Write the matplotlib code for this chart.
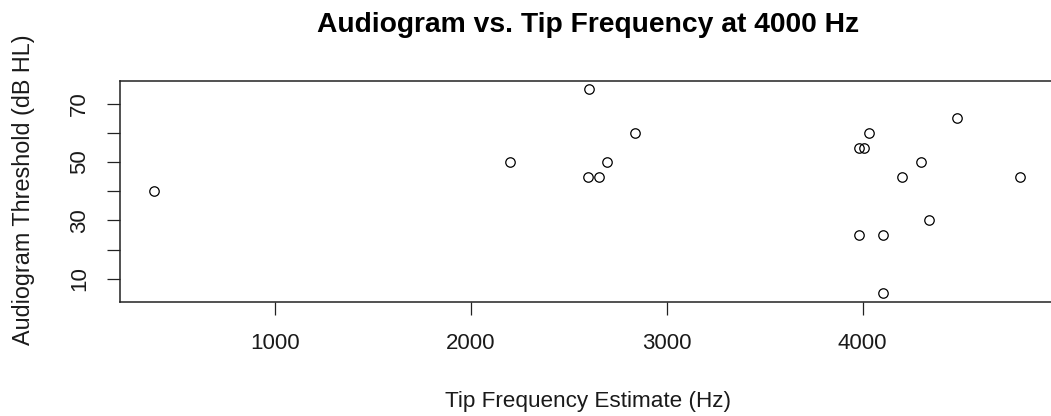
import matplotlib
matplotlib.use("Agg")
import matplotlib.pyplot as plt

# tip frequency estimate (Hz) and audiogram threshold (dB HL) for each ear
tip_freq = [386, 2203, 2606, 2597, 2654, 2697, 2839,
            3984, 4009, 4031, 3984, 4104, 4104, 4200,
            4299, 4337, 4480, 4805]
threshold = [40, 50, 75, 45, 45, 50, 60,
             55, 55, 60, 25, 25, 5, 45,
             50, 30, 65, 45]

x_ticks = [1000, 2000, 3000, 4000]
y_ticks = [10, 20, 30, 40, 50, 60, 70]
y_tick_labels = ["10", "", "30", "", "50", "", "70"]

plt.rcParams["font.family"] = ["Liberation Sans", "DejaVu Sans"]

W, H = 1051, 416
fig = plt.figure(figsize=(W / 100, H / 100), dpi=100)

# plot region in pixels: left 120, top 81, bottom 301.5, right runs past the edge
left, top, bottom, right = 119.7, 81, 301.5, 1055
ax = fig.add_axes([left / W, 1 - bottom / H, (right - left) / W, (bottom - top) / H])

ax.plot(tip_freq, threshold, "o", markersize=6.8, markerfacecolor="none",
        markeredgecolor="black", markeredgewidth=0.9, linestyle="none")

# R style 4% padding around the data range
xr = max(tip_freq) - min(tip_freq)
yr = max(threshold) - min(threshold)
ax.set_xlim(min(tip_freq) - 0.04 * xr, max(tip_freq) + 0.04 * xr)
ax.set_ylim(min(threshold) - 0.04 * yr, max(threshold) + 0.04 * yr)

ax.set_xticks(x_ticks)
ax.set_xticklabels([str(t) for t in x_ticks])
ax.set_yticks(y_ticks)
ax.set_yticklabels(y_tick_labels, rotation=90, va="center")

for s in ax.spines.values():
    s.set_linewidth(1.1)
    s.set_color("#222222")
ax.tick_params(axis="both", direction="out", length=9.5, width=0.9,
               color="#222222", labelsize=16, labelcolor="#1a1a1a")
ax.tick_params(axis="x", pad=13.5)
ax.tick_params(axis="y", pad=12)

fig.text(588 / W, 1 - 32 / H, "Audiogram vs. Tip Frequency at 4000 Hz",
         ha="center", va="baseline", fontsize=20.3, fontweight="bold")
fig.text(588 / W, 1 - 407 / H, "Tip Frequency Estimate (Hz)",
         ha="center", va="baseline", fontsize=16.2, color="#1a1a1a")
fig.text(24 / W, 1 - 190 / H, "Audiogram Threshold (dB HL)",
         ha="center", va="center", rotation=90, fontsize=16.8, color="#1a1a1a")

plt.savefig("out.png", dpi=100)
